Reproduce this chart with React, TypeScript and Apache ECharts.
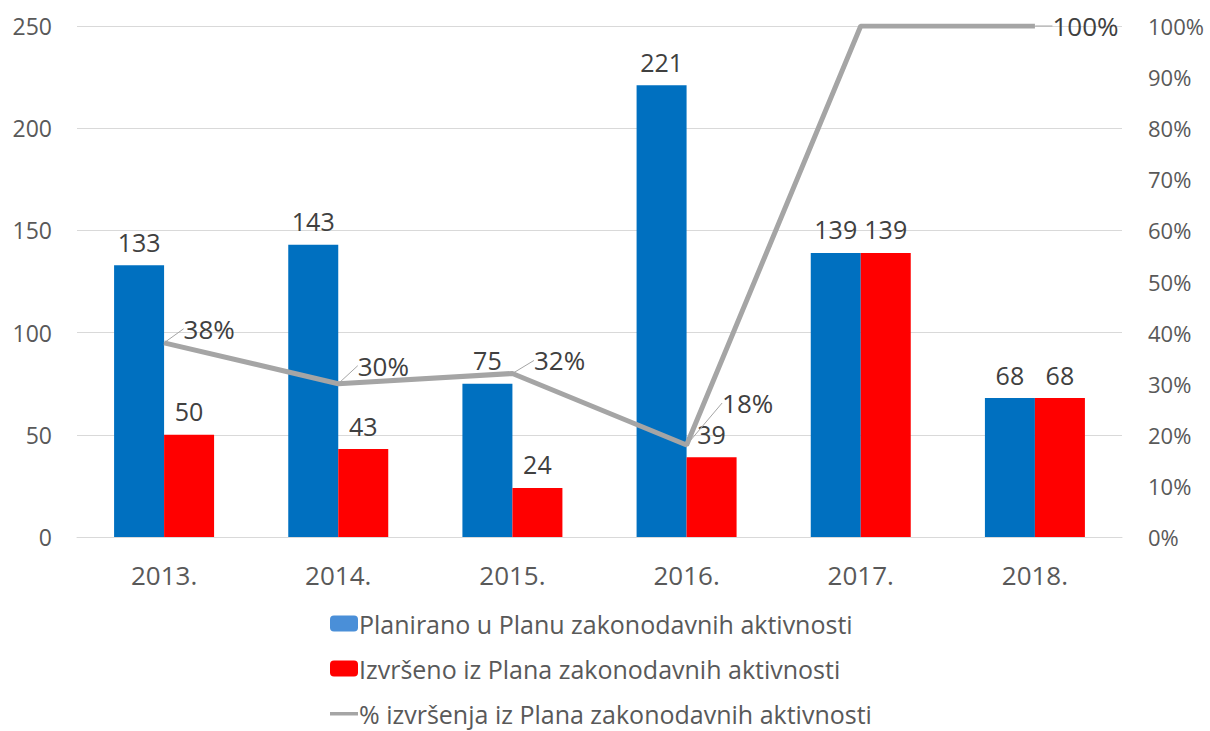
import React, { useEffect, useRef } from "react";
import * as echarts from "echarts";

const categories = ["2013.", "2014.", "2015.", "2016.", "2017.", "2018."];
const planned = [133, 143, 75, 221, 139, 68];
const executed = [50, 43, 24, 39, 139, 68];
const percent = [38, 30, 32, 18, 100, 100];
const percentLabelShown = [true, true, true, true, false, true];
const leftTicks = { min: 0, max: 250, interval: 50 };
const rightTicks = { min: 0, max: 100, interval: 10 };

const seriesNames = [
  "Planirano u Planu zakonodavnih aktivnosti",
  "Izvršeno iz Plana zakonodavnih aktivnosti",
  "% izvršenja iz Plana zakonodavnih aktivnosti",
];

const FONT = "Open Sans";
const labelOffsets = [
  [14, -14],
  [14, -18],
  [16, -13],
  [30, -42],
  [0, 0],
  [12, 0],
];

const lineIcon =
  "path://M0,0h0.01v0.01h-0.01z M0,6.5h28v3.5h-28z M27.99,15.99h0.01v0.01h-0.01z";

export default function App() {
  const ref = useRef<HTMLDivElement>(null);
  useEffect(() => {
    if (!ref.current) return;
    const chart = echarts.init(ref.current, null, { renderer: "svg" });
    chart.setOption({
      animation: false,
      textStyle: { fontFamily: FONT },
      grid: { left: 77, right: 88, top: 26, bottom: 194 },
      legend: {
        orient: "vertical",
        left: 325,
        top: 606,
        height: 124,
        itemGap: 20,
        itemWidth: 28,
        itemHeight: 16,
        textStyle: { fontSize: 25, color: "#595959", fontFamily: FONT, padding: [0, 0, 0, -4] },
        data: [
          { name: seriesNames[0], itemStyle: { color: "#4A8FD8" } },
          { name: seriesNames[1] },
          { name: seriesNames[2], icon: lineIcon, itemStyle: { color: "#A5A5A5" } },
        ],
      },
      xAxis: {
        type: "category",
        data: categories,
        axisTick: { show: false },
        axisLine: { lineStyle: { color: "#d9d9d9" } },
        axisLabel: { fontSize: 26, color: "#595959", margin: 25 },
      },
      yAxis: [
        {
          type: "value",
          ...leftTicks,
          axisLabel: { fontSize: 23, color: "#595959", margin: 25 },
          splitLine: { lineStyle: { color: "#d9d9d9" } },
          axisLine: { show: false },
          axisTick: { show: false },
        },
        {
          type: "value",
          ...rightTicks,
          position: "right",
          axisLabel: { fontSize: 22, color: "#595959", margin: 26, formatter: "{value}%" },
          splitLine: { show: false },
          axisLine: { show: false },
          axisTick: { show: false },
        },
      ],
      series: [
        {
          name: seriesNames[0],
          type: "bar",
          data: planned,
          barWidth: 50,
          barGap: "0%",
          itemStyle: { color: "#0070C0" },
          label: { show: true, position: "top", fontSize: 25, color: "#404040", distance: 11 },
        },
        {
          name: seriesNames[1],
          type: "bar",
          data: executed,
          barWidth: 50,
          itemStyle: { color: "#FF0000" },
          label: { show: true, position: "top", fontSize: 25, color: "#404040", distance: 11 },
        },
        {
          name: seriesNames[2],
          type: "line",
          yAxisIndex: 1,
          data: percent.map((v, i) => ({
            value: v,
            label: { show: percentLabelShown[i] },
          })),
          symbol: "circle",
          symbolSize: 1,
          showSymbol: true,
          lineStyle: { color: "#A5A5A5", width: 5 },
          itemStyle: { color: "#A5A5A5" },
          label: {
            show: true,
            position: "right",
            fontSize: 26,
            color: "#404040",
            formatter: "{c}%",
          },
          labelLayout: (p: any) => ({
            dx: labelOffsets[p.dataIndex][0],
            dy: labelOffsets[p.dataIndex][1],
          }),
          labelLine: { show: true, lineStyle: { color: "#A5A5A5", width: 1 } },
          z: 5,
        },
      ],
    });
    return () => chart.dispose();
  }, []);
  return (
    <div
      ref={ref}
      style={{ position: "fixed", left: 0, top: 0, width: 1210, height: 731, background: "#fff" }}
    />
  );
}
